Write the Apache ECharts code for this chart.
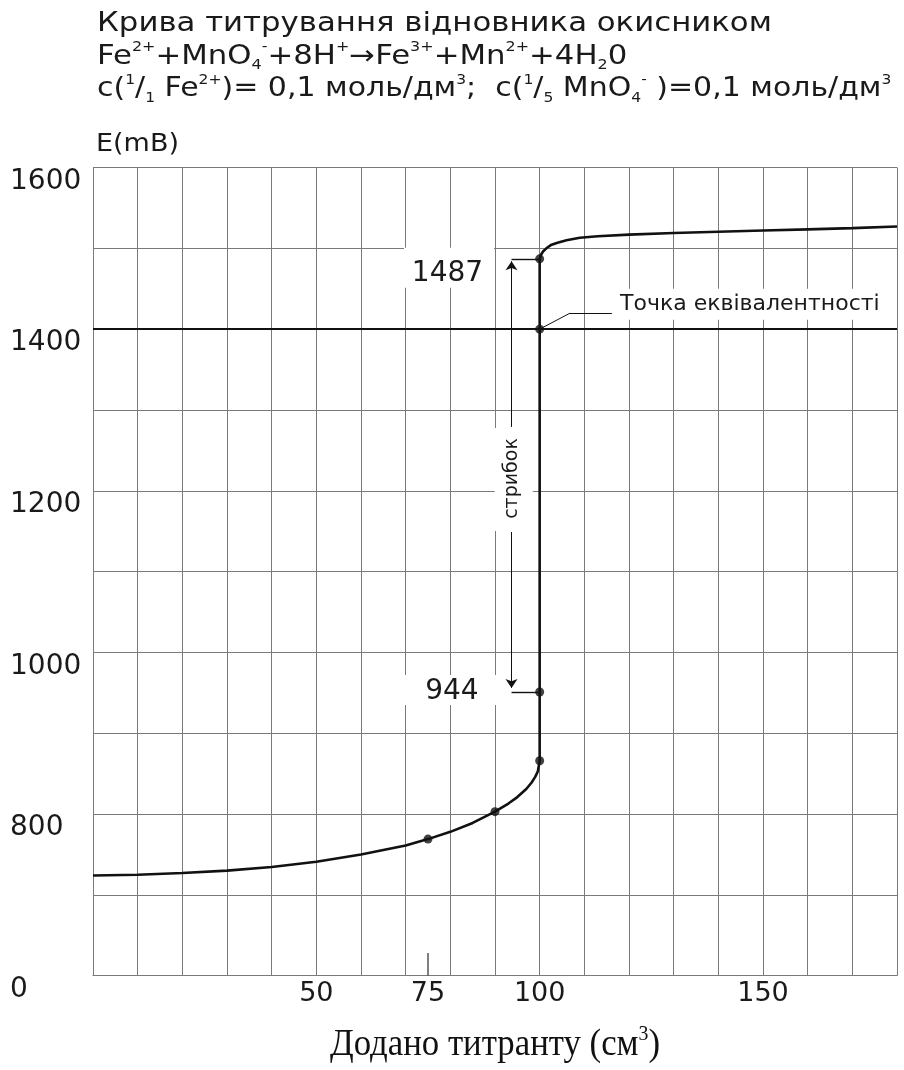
<!DOCTYPE html>
<html><head><meta charset="utf-8">
<script src="https://cdn.jsdelivr.net/npm/echarts@6/dist/echarts.min.js"></script>
<style>html,body{margin:0;padding:0;background:#fff}#c{width:904px;height:1070px}</style>
</head><body><div id="c"></div>
<script>
// ---- text ----
const titleLines = [
  'Крива титрування відновника окисником',
  'Fe{sup|2+}+MnO{sub|4}{sup|-}+8H{sup|+}→Fe{sup|3+}+Mn{sup|2+}+4H{sub|2}0',
  'c({sup|1}/{sub|1} Fe{sup|2+})= 0,1 моль/дм{sup|3};  c({sup|1}/{sub|5} MnO{sub|4}{sup|-} )=0,1 моль/дм{sup|3}'
];
const yAxisTitle = 'E(mB)';
const xAxisTitle = 'Додано титранту (см{s|3})';
const equivText = 'Точка еквівалентності';
const jumpText = 'стрибок';
const jumpLowText = '944';
const jumpHighText = '1487';

// ---- ticks ----
const xTickLabels = [50, 100, 150];
const xExtraTick = 75;
const yTickLabels = [800, 1000, 1200, 1400, 1600];
const yBreakValue = 600;      // axis is broken: bottom line is labelled "0"
const yBreakLabel = '0';

// ---- titration curve (volume cm3, potential mV) ----
const curveX = [0, 10, 20, 30, 40, 50, 60, 70, 75, 80, 85, 90, 93, 95, 97, 98.2, 99, 99.6, 100,
                100, 100, 100, 100.3, 100.75, 101.5, 102.5, 104, 106, 109, 113, 120, 130, 140, 150, 160, 170, 180];
const curveE = [724, 725, 727, 730, 734.5, 741, 750, 761, 769, 778, 789, 803, 813, 821, 831, 839, 846, 853, 866,
                951, 1400, 1487, 1492, 1496, 1500, 1504, 1507, 1510, 1513, 1515, 1517, 1519, 1520.5, 1522, 1523.5, 1525, 1527];

// ---- marked points ----
const markedX = [75, 90, 100, 100, 100, 100];
const markedE = [769, 803, 866, 951, 1400, 1487];

// ---- annotation anchors (data units) ----
const equivX = 100, equivE = 1400;
const jumpArrowX = 93.7;
const jumpLowE = 951, jumpHighE = 1487;
const leaderBendX = 106.8, leaderEndX = 116.4, leaderE = 1419.8;

const curve = curveX.map((x, i) => [x, curveE[i]]);
const marked = markedX.map((x, i) => [x, markedE[i]]);

const GRID = '#7a7a7a';
const SANS = 'DejaVu Sans';
const chart = echarts.init(document.getElementById('c'), null, {renderer: 'canvas'});

const richTitle = {
  sup: {fontSize: 14, fontFamily: SANS, lineHeight: 14, verticalAlign: 'top', fill: '#1a1a1a'},
  sub: {fontSize: 14, fontFamily: SANS, lineHeight: 11, verticalAlign: 'bottom', fill: '#1a1a1a'}
};
const titleTops = [8, 40.5, 73];
const titleScale = [1.14, 1.14, 1.11];

const option = {
  animation: false,
  backgroundColor: '#fff',
  grid: {left: 93, right: 7, top: 167.5, bottom: 94.3, containLabel: false},
  graphic: titleLines.map((t, i) => ({
    type: 'text', x: 97, y: titleTops[i], scaleX: titleScale[i], silent: true,
    style: {text: t, fontSize: 27, fontFamily: SANS, fill: '#1a1a1a', lineHeight: 32,
            verticalAlign: 'top', align: 'left', rich: richTitle}
  })).concat([{
    type: 'text', x: 96, y: 144, scaleX: 1.08, silent: true,
    style: {text: yAxisTitle, fontSize: 25, fontFamily: SANS, fill: '#1a1a1a', verticalAlign: 'middle', align: 'left'}
  }, {
    type: 'text', x: 495, y: 1024, scaleX: 0.94, silent: true,
    style: {text: xAxisTitle, fontSize: 37, fontFamily: 'Liberation Serif', fill: '#111', lineHeight: 42,
            verticalAlign: 'top', align: 'center',
            rich: {s: {fontFamily: 'Liberation Serif', fontSize: 21, lineHeight: 21, verticalAlign: 'top', fill: '#111'}}}
  }]),
  xAxis: [{
    type: 'value', min: 0, max: 180, interval: 10, position: 'bottom',
    axisLine: {show: true, onZero: false, lineStyle: {color: GRID, width: 1}},
    axisTick: {show: false},
    splitLine: {show: true, lineStyle: {color: GRID, width: 1}},
    axisLabel: {formatter: v => xTickLabels.includes(v) ? String(v) : '', margin: 5,
                fontFamily: SANS, fontSize: 27, color: '#1a1a1a'}
  }, {
    type: 'value', min: 0, max: 180, interval: 25, position: 'bottom',
    axisLine: {show: false}, axisTick: {show: false}, splitLine: {show: false},
    axisLabel: {formatter: v => v === xExtraTick ? String(v) : '', margin: 5,
                fontFamily: SANS, fontSize: 27, color: '#1a1a1a'}
  }],
  yAxis: {
    type: 'value', min: yBreakValue, max: 1600, interval: 100,
    axisLine: {show: true, lineStyle: {color: GRID, width: 1}},
    axisTick: {show: false},
    splitLine: {show: true, lineStyle: {color: GRID, width: 1}},
    axisLabel: {
      formatter: v => v === yBreakValue ? yBreakLabel : (yTickLabels.includes(v) ? String(v) : ''),
      align: 'left', verticalAlign: 'top', margin: 83,
      fontFamily: SANS, fontSize: 28, color: '#1a1a1a'
    }
  },
  series: [
    {
      type: 'scatter', name: 'boxes', data: [], z: 3, silent: true,
      markPoint: {
        silent: true, animation: false,
        data: [
          {coord: [79.7, 1475.9], symbol: 'rect', symbolSize: [90, 40], itemStyle: {color: '#fff'},
           label: {show: true, formatter: jumpHighText, offset: [-1.5, 6], fontFamily: SANS, fontSize: 28, color: '#1a1a1a'}},
          {coord: [79.9, 953.6], symbol: 'rect', symbolSize: [100, 30], itemStyle: {color: '#fff'},
           label: {show: true, formatter: jumpLowText, offset: [2, 2], fontFamily: SANS, fontSize: 28, color: '#1a1a1a'}},
          {coord: [94.2, 1214], symbol: 'rect', symbolSize: [38, 103], itemStyle: {color: '#fff'},
           label: {show: true, formatter: jumpText, rotate: 90, offset: [1, -1.5], fontFamily: SANS, fontSize: 19, color: '#1a1a1a'}},
          {coord: [147.5, 1430.7], symbol: 'rect', symbolSize: [280, 31], itemStyle: {color: '#fff'},
           label: {show: true, formatter: equivText, offset: [-2, -0.5], fontFamily: SANS, fontSize: 22, color: '#1a1a1a'}}
        ]
      }
    },
    {
      type: 'line', name: 'E', data: curve, symbol: 'none', z: 5, silent: true,
      lineStyle: {color: '#111', width: 2.6},
      markLine: {
        silent: true, animation: false, symbol: ['none', 'none'], label: {show: false},
        lineStyle: {type: 'solid', color: '#111', width: 1},
        data: [
          [{coord: [0, equivE], lineStyle: {width: 2.2, color: '#111'}}, {coord: [180, equivE]}],
          [{coord: [equivX, equivE]}, {coord: [leaderBendX, leaderE]}],
          [{coord: [leaderBendX, leaderE]}, {coord: [leaderEndX, leaderE]}],
          [{coord: [jumpArrowX, jumpHighE]}, {coord: [equivX, jumpHighE], lineStyle: {width: 1.4}}],
          [{coord: [jumpArrowX, jumpLowE]}, {coord: [equivX, jumpLowE], lineStyle: {width: 1.4}}],
          [{coord: [jumpArrowX, 1279], symbol: 'none'}, {coord: [jumpArrowX, 1484], symbol: 'arrow', symbolSize: 9}],
          [{coord: [jumpArrowX, 1149], symbol: 'none'}, {coord: [jumpArrowX, 956], symbol: 'arrow', symbolSize: 9}],
          [{coord: [xExtraTick, yBreakValue]}, {coord: [xExtraTick, 628], lineStyle: {color: '#555', width: 1.5}}]
        ]
      }
    },
    {
      type: 'scatter', name: 'points', data: marked, symbol: 'circle', symbolSize: 9, z: 6, silent: true,
      itemStyle: {color: '#111'}
    }
  ]
};
chart.setOption(option);
</script>
</body></html>
